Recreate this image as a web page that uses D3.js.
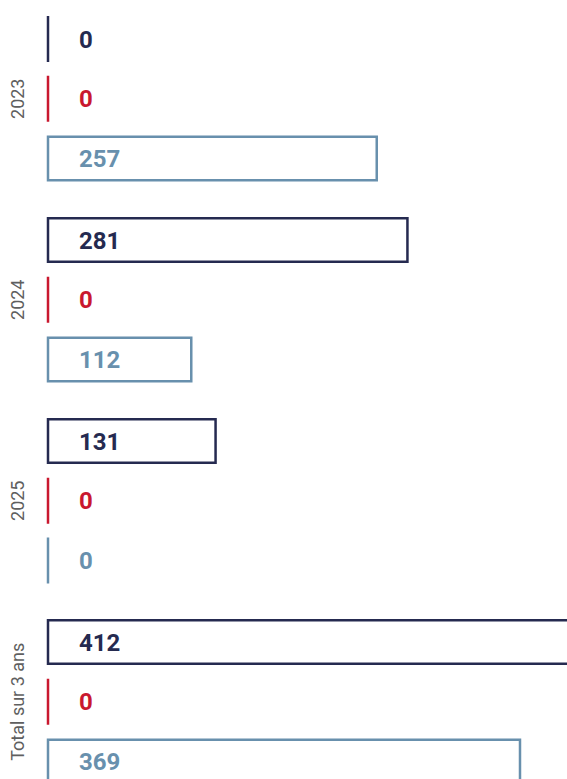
<!DOCTYPE html>
<html>
<head>
<meta charset="utf-8">
<script src="https://cdn.jsdelivr.net/npm/d3@7"></script>
<style>
  html, body { margin: 0; padding: 0; background: #fff; }
  svg { display: block; }
</style>
</head>
<body>
<svg id="chart" width="567" height="779"></svg>
<script>
const groups = ["2023", "2024", "2025", "Total sur 3 ans"];
const seriesNames = ["s1", "s2", "s3"];
const valuesS1 = [0, 281, 131, 412];
const valuesS2 = [0, 0, 0, 0];
const valuesS3 = [257, 112, 0, 369];
const seriesColors = ["#252a50", "#c9182f", "#6890ad"];

const allSeries = [valuesS1, valuesS2, valuesS3];
const data = [];
groups.forEach((g, gi) => {
  seriesNames.forEach((s, si) => {
    data.push({ group: g, series: s, si, value: allSeries[si][gi] });
  });
});

const svg = d3.select("#chart");

const x = d3.scaleLinear().domain([0, 412]).range([48, 575]);
const y0 = d3.scaleBand().domain(groups).range([16, 16 + 4 * 201]).paddingInner(0);
const y1 = d3.scaleBand().domain(seriesNames).range([0, 165.5]).paddingInner(0.23).paddingOuter(0);

const sw = 2.5;
const bars = svg.append("g").selectAll("g.bar").data(data).join("g")
  .attr("class", "bar")
  .attr("transform", d => `translate(0,${y0(d.group) + y1(d.series)})`);

bars.filter(d => d.value > 0).append("rect")
  .attr("x", x(0))
  .attr("y", sw / 2)
  .attr("width", d => x(d.value) - x(0))
  .attr("height", y1.bandwidth() - sw)
  .attr("fill", "#fff")
  .attr("stroke", d => seriesColors[d.si])
  .attr("stroke-width", sw);

bars.filter(d => d.value === 0).append("line")
  .attr("x1", x(0)).attr("x2", x(0))
  .attr("y1", 0).attr("y2", y1.bandwidth())
  .attr("stroke", d => seriesColors[d.si])
  .attr("stroke-width", sw);

bars.append("text")
  .attr("x", 79)
  .attr("y", y1.bandwidth() / 2)
  .attr("dy", "0.36em")
  .attr("font-family", "Roboto, 'Open Sans', sans-serif")
  .attr("font-weight", 700)
  .attr("font-size", 24)
  .attr("fill", d => seriesColors[d.si])
  .text(d => d.value);

svg.append("g").selectAll("text").data(groups).join("text")
  .attr("transform", d => `translate(17.5,${y0(d) + 165.5 / 2}) rotate(-90)`)
  .attr("text-anchor", "middle")
  .attr("dy", "0.36em")
  .attr("font-family", "Roboto, 'Open Sans', sans-serif")
  .attr("font-size", 18)
  .attr("fill", "#5f5f5f")
  .text(d => d);
</script>
</body>
</html>
